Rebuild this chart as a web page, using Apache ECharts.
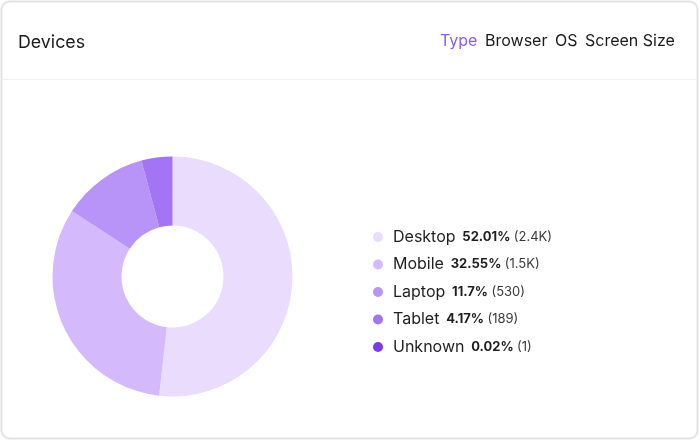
<!DOCTYPE html>
<html><head><meta charset="utf-8">
<script src="https://cdn.jsdelivr.net/npm/echarts@6/dist/echarts.min.js"></script>
<style>html,body{margin:0;padding:0;background:#fff}#c{width:700px;height:441px}</style>
</head><body><div id="c"></div>
<script>
const categories = ['Desktop','Mobile','Laptop','Tablet','Unknown'];
const percents = [52.01, 32.55, 11.7, 4.17, 0.02];
const percentLabels = ['52.01%','32.55%','11.7%','4.17%','0.02%'];
const countLabels = ['(2.4K)','(1.5K)','(530)','(189)','(1)'];
const colors = ['#e9dcfd','#d4b9fc','#b994f8','#a374f3','#7c3aed'];
const tabs = ['Type','Browser','OS','Screen Size'];

const chart = echarts.init(document.getElementById('c'), null, {renderer:'canvas'});
const FONT = 'Inter, "Noto Sans", sans-serif';
const tabX = [440, 485, 555, 585];
const option = {
  animation:false,
  color: colors,
  title: {text:'Devices', left:13, top:29, textStyle:{fontFamily:FONT, fontSize:17.8, fontWeight:'normal', color:'#1a1a1a'}},
  graphic: [
    {type:'rect', z:-10, shape:{x:1.5, y:1.5, width:696, height:437, r:8}, style:{fill:'#fff', stroke:'#e3e3e3', lineWidth:2}},
    {type:'line', z:-9, shape:{x1:2, y1:79.5, x2:697, y2:79.5}, style:{stroke:'#efefef', lineWidth:1}},
  ].concat(tabs.map((t,i)=>({type:'text', left:tabX[i], top:33, style:{text:t, font:'16px '+FONT, fill: i===0?'#8b5cf6':'#1a1a1a'}}))),
  legend: {
    orient:'vertical', left:368, top:224, icon:'circle', itemWidth:10, itemHeight:10, itemGap:11.5,
    data: categories,
    formatter: function(name){
      const i = categories.indexOf(name);
      return '{n|'+name+'}  {p|'+percentLabels[i]+'} {c|'+countLabels[i]+'}';
    },
    textStyle:{
      fontFamily:FONT, padding:[0,0,0,5],
      rich:{
        n:{fontFamily:FONT, fontSize:16, color:'#1f1f1f', lineHeight:20},
        p:{fontFamily:FONT, fontSize:13, fontWeight:'bold', color:'#1f1f1f', lineHeight:20},
        c:{fontFamily:FONT, fontSize:13, color:'#3a3a3a', lineHeight:20}
      }
    },
    selectedMode:false
  },
  series: [{
    type:'pie', center:[172.5, 276.5], radius:[51, 120], startAngle:90, clockwise:true,
    label:{show:false}, labelLine:{show:false}, emphasis:{disabled:true},
    itemStyle:{borderWidth:0},
    data: categories.map((n,i)=>({name:n, value:percents[i]}))
  }]
};
chart.setOption(option);
</script></body></html>
